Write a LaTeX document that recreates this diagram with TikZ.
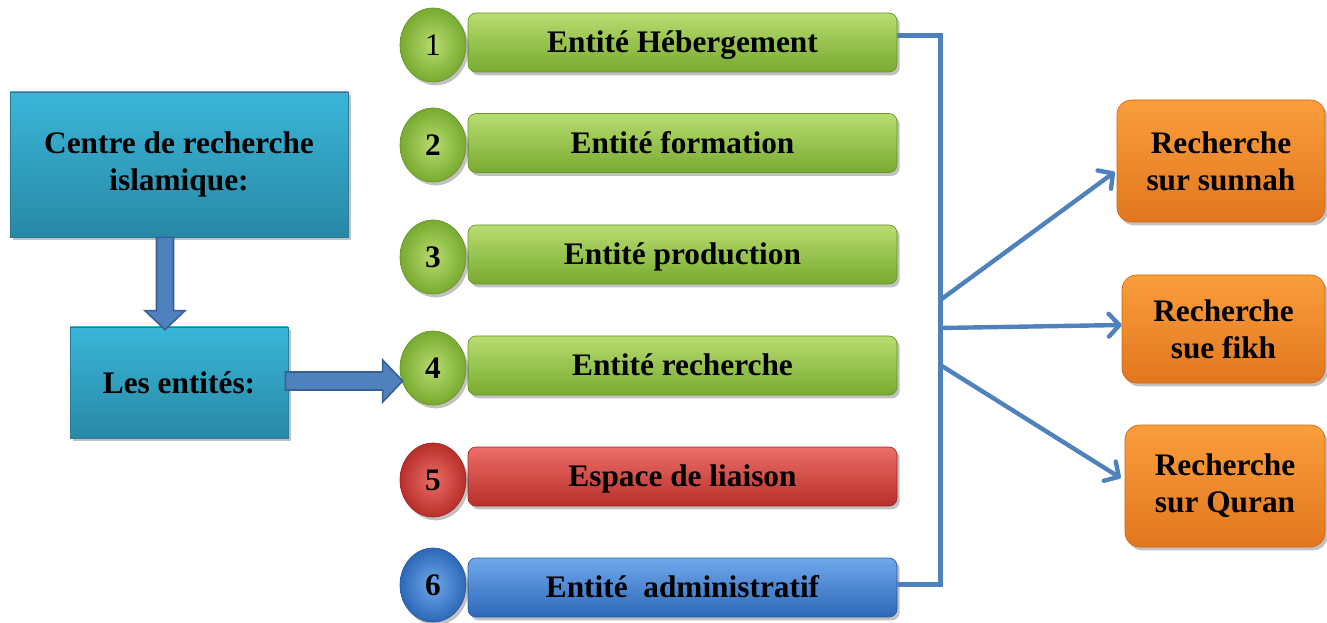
\documentclass[tikz,border=0pt]{standalone}
\usepackage{fontspec}
\setmainfont{Liberation Serif}
\usetikzlibrary{shadows,calc,arrows.meta,shapes.geometric}

\definecolor{tealtop}{RGB}{58,182,216}
\definecolor{tealbot}{RGB}{40,136,166}
\definecolor{tealedge}{RGB}{36,124,152}
\definecolor{greentop}{RGB}{184,220,112}
\definecolor{greenmid}{RGB}{156,204,82}
\definecolor{greenbot}{RGB}{120,170,48}
\definecolor{greenedge}{RGB}{104,148,40}
\definecolor{redtop}{RGB}{236,110,104}
\definecolor{redmid}{RGB}{214,70,64}
\definecolor{redbot}{RGB}{184,46,42}
\definecolor{rededge}{RGB}{160,40,36}
\definecolor{bluetop}{RGB}{112,168,236}
\definecolor{bluemid}{RGB}{74,138,216}
\definecolor{bluebot}{RGB}{44,104,184}
\definecolor{blueedge}{RGB}{38,90,160}
\definecolor{orangetop}{RGB}{250,158,60}
\definecolor{orangebot}{RGB}{226,118,30}
\definecolor{orangeedge}{RGB}{206,104,22}
\definecolor{linkblue}{RGB}{79,129,189}
\definecolor{linkdark}{RGB}{56,96,148}

\begin{document}
\begin{tikzpicture}[x=0.75pt,y=-0.75pt,
  txt/.style={font=\fontsize{23.5}{28}\selectfont\bfseries, align=center, inner sep=0pt},
  shade/.style={drop shadow={shadow xshift=2pt,shadow yshift=-2.5pt,opacity=0.35,fill=black!70}},
  tealbox/.style={rectangle, txt, shade, top color=tealtop, bottom color=tealbot, draw=tealedge, line width=0.5pt},
  barbox/.style={rectangle, rounded corners=6pt, minimum width=321.75pt, minimum height=44.25pt, txt, shade, line width=0.5pt, text depth=1pt},
  greenbar/.style={barbox, top color=greentop, middle color=greenmid, bottom color=greenbot, draw=greenedge},
  redbar/.style={barbox, top color=redtop, middle color=redmid, bottom color=redbot, draw=rededge},
  bluebar/.style={barbox, top color=bluetop, middle color=bluemid, bottom color=bluebot, draw=blueedge},
  ballbox/.style={ellipse, minimum width=49.5pt, minimum height=55.5pt, txt, shade, line width=0.5pt},
  greenball/.style={ballbox, inner color=greentop, outer color=greenbot, draw=greenedge},
  redball/.style={ballbox, inner color=redtop, outer color=redbot, draw=rededge},
  blueball/.style={ballbox, inner color=bluetop, outer color=bluebot, draw=blueedge},
  orangebox/.style={rectangle, rounded corners=11pt, txt, shade, top color=orangetop, bottom color=orangebot, draw=orangeedge, line width=0.5pt},
  blockarrow/.style={fill=linkblue, draw=linkdark, line width=1.2pt, line join=miter},
  bracketline/.style={draw=linkblue, line width=3.75pt},
  flow/.style={draw=linkblue, line width=3.3pt, line cap=round, -{Straight Barb[length=8pt,width=17pt,round]}}
]
\useasboundingbox (0,0) rectangle (1327,623);

% left column
\node[tealbox, minimum width=253.5pt, minimum height=108.75pt] (centre) at (179,164.5) {Centre de recherche\\islamique:};
\node[tealbox, minimum width=163.5pt, minimum height=83.25pt] (ent) at (179,382.5) {Les entités:};

% bars
\node[greenbar] (b1) at (682.5,42.5) {Entité Hébergement};
\node[greenbar] (b2) at (682.5,143) {Entité formation};
\node[greenbar] (b3) at (682.5,254.5) {Entité production};
\node[greenbar] (b4) at (682.5,365.5) {Entité recherche};
\node[redbar] (b5) at (682.5,476.5) {Espace de liaison};
\node[bluebar] (b6) at (682.5,587.5) {Entité~~administratif};

% numbered balls
\node[greenball] (n1) at (433,45) {\mdseries 1};
\node[greenball] (n2) at (433,145) {2};
\node[greenball] (n3) at (433,257) {3};
\node[greenball] (n4) at (433,368) {4};
\node[redball] (n5) at (433,480) {5};
\node[blueball] (n6) at (433,585) {6};

% research boxes
\node[orangebox, minimum width=156pt, minimum height=91.5pt] (o1) at (1221,161) {Recherche\\sur sunnah};
\node[orangebox, minimum width=152.25pt, minimum height=81pt] (o2) at (1223.5,329) {Recherche\\sue fikh};
\node[orangebox, minimum width=150pt, minimum height=91.5pt] (o3) at (1225,486) {Recherche\\sur Quran};

% block arrow down
\coordinate (dA) at ($(centre.south)+(-14,0)$);
\coordinate (dB) at ($(ent.north)+(-14,3)$);
\path[blockarrow] ($(dA)+(-8.5,0)$) -- ($(dB)+(-8.5,-19)$) -- ($(dB)+(-20,-19)$) -- (dB)
  -- ($(dB)+(20,-19)$) -- ($(dB)+(8.5,-19)$) -- ($(dA)+(8.5,0)$) -- cycle;

% block arrow right
\coordinate (rA) at ($(ent.east)+(-3,-1.5)$);
\coordinate (rB) at ($(ent.east -| n4.west)+(3,-1.5)$);
\path[blockarrow] ($(rA)+(0,-9)$) -- ($(rB)+(-20,-9)$) -- ($(rB)+(-20,-21)$) -- (rB)
  -- ($(rB)+(-20,21)$) -- ($(rB)+(-20,9)$) -- ($(rA)+(0,9)$) -- cycle;

% bracket joining the bars
\coordinate (bt) at ($(b1.east)+(43,-7)$);
\coordinate (bb) at ($(b6.east)+(43,-3)$);
\draw[bracketline] ($(b1.east)+(0,-7)$) -- (bt) -- (bb) -- ($(b6.east)+(0,-3)$);

% links to research boxes
\coordinate (j1) at (bt |- 0,300);
\coordinate (j2) at (bt |- 0,328);
\coordinate (j3) at (bt |- 0,365);
\draw[flow] (j1) -- ($(o1.west)+(-2,11)$);
\draw[flow] (j2) -- ($(o2.west)+(0,-4)$);
\draw[flow] (j3) -- ($(o3.west)+(-4,-8)$);
\end{tikzpicture}
\end{document}
